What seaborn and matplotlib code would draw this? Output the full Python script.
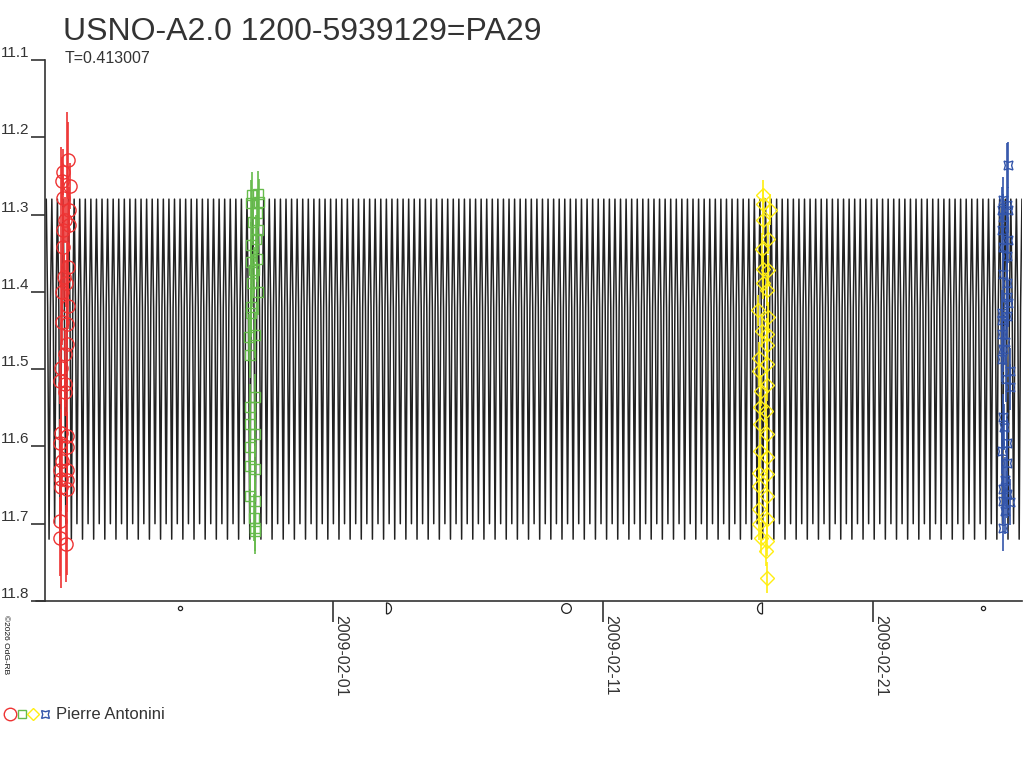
import numpy as np
import pandas as pd
import matplotlib
matplotlib.use("Agg")
import matplotlib.pyplot as plt
from matplotlib.path import Path
from matplotlib.lines import Line2D
import seaborn as sns

# --- data (time = days from 2009-02-01 00:00 UT, magnitude) ---
period = 0.413007
base_date = pd.Timestamp("2009-02-01")

# one period of the model curve (two minima per period), equal phase steps
model_cycle = [11.28, 11.42, 11.72, 11.42, 11.28, 11.42, 11.70, 11.42]
model_start = -10.62
model_end = 25.52

red_t = [-9.804, -10.011, -10.048, -9.741, -9.989, -9.767, -9.926, -9.767, -9.989, -10.011,
         -9.804, -9.963, -9.889, -10.048, -9.804, -10.048, -9.863, -9.863, -9.926, -10.085,
         -10.111, -9.926, -9.926, -10.085, -9.841, -10.111, -9.863, -10.048, -10.111, -9.863,
         -10.085, -9.841, -10.085, -9.863, -10.111, -10.111, -9.889]
red_m = [11.230, 11.245, 11.256, 11.263, 11.279, 11.294, 11.307, 11.314, 11.320, 11.342,
         11.368, 11.381, 11.389, 11.400, 11.418, 11.439, 11.441, 11.467, 11.480, 11.498,
         11.515, 11.519, 11.530, 11.582, 11.586, 11.595, 11.601, 11.619, 11.631, 11.631,
         11.642, 11.644, 11.653, 11.655, 11.696, 11.718, 11.726]
red_e = [0.05, 0.03, 0.03, 0.03, 0.03, 0.03, 0.03, 0.03, 0.03, 0.03,
         0.03, 0.03, 0.03, 0.03, 0.03, 0.03, 0.03, 0.30, 0.03, 0.285,
         0.03, 0.03, 0.03, 0.03, 0.03, 0.03, 0.03, 0.03, 0.03, 0.03,
         0.03, 0.03, 0.03, 0.03, 0.03, 0.05, 0.05]

green_t = [-2.767, -3.011, -2.730, -3.048, -2.826, -2.952, -2.767, -2.852, -3.048, -2.826,
           -3.048, -2.926, -3.011, -2.767, -3.048, -3.048, -2.889, -3.100, -3.074, -2.889,
           -3.074, -3.074, -2.889, -3.074, -3.074, -2.889, -3.074, -2.889, -2.926, -2.889,
           -2.889]
green_m = [11.273, 11.275, 11.284, 11.285, 11.298, 11.310, 11.320, 11.331, 11.340, 11.357,
           11.361, 11.372, 11.389, 11.400, 11.420, 11.428, 11.456, 11.459, 11.482, 11.536,
           11.549, 11.571, 11.584, 11.601, 11.625, 11.629, 11.664, 11.670, 11.692, 11.705,
           11.709]
green_e = [0.03, 0.03, 0.03, 0.03, 0.03, 0.03, 0.03, 0.03, 0.03, 0.03,
           0.03, 0.03, 0.03, 0.03, 0.03, 0.03, 0.03, 0.03, 0.03, 0.03,
           0.03, 0.03, 0.03, 0.03, 0.03, 0.03, 0.03, 0.03, 0.03, 0.03,
           0.03]

yellow_t = [15.937, 15.915, 16.185, 15.937, 16.122, 15.878, 15.937, 16.122, 15.915, 16.063,
            15.752, 16.122, 15.878, 16.085, 16.063, 15.789, 16.063, 15.789, 16.063, 15.841,
            15.815, 16.037, 15.815, 16.063, 15.815, 16.063, 15.789, 16.063, 15.789, 16.063,
            15.789, 16.063, 15.789, 15.841, 16.085, 16.037, 16.063]
yellow_m = [11.275, 11.286, 11.294, 11.307, 11.331, 11.344, 11.370, 11.372, 11.389, 11.398,
            11.424, 11.433, 11.450, 11.454, 11.469, 11.485, 11.493, 11.502, 11.521, 11.528,
            11.549, 11.554, 11.571, 11.584, 11.606, 11.614, 11.634, 11.636, 11.651, 11.664,
            11.681, 11.694, 11.701, 11.718, 11.722, 11.735, 11.770]
yellow_e = [0.02, 0.02, 0.02, 0.02, 0.02, 0.02, 0.02, 0.02, 0.02, 0.02,
            0.02, 0.02, 0.02, 0.02, 0.02, 0.02, 0.02, 0.02, 0.02, 0.02,
            0.02, 0.02, 0.02, 0.02, 0.02, 0.02, 0.02, 0.02, 0.02, 0.02,
            0.02, 0.02, 0.02, 0.02, 0.02, 0.02, 0.02]

blue_t = [25.011, 24.804, 24.952, 24.767, 25.011, 24.826, 24.767, 25.011, 24.826, 24.952,
          24.804, 24.952, 24.952, 25.011, 24.767, 24.952, 24.767, 24.767, 24.889, 24.804,
          24.767, 25.074, 24.926, 25.074, 24.804, 24.852, 24.952, 24.767, 24.952, 24.889,
          24.826, 24.952, 24.826, 25.074, 24.889, 24.826]
blue_m = [11.236, 11.281, 11.288, 11.294, 11.294, 11.303, 11.320, 11.333, 11.342, 11.353,
          11.377, 11.389, 11.407, 11.415, 11.428, 11.431, 11.437, 11.454, 11.465, 11.474,
          11.487, 11.502, 11.513, 11.523, 11.562, 11.575, 11.595, 11.606, 11.621, 11.644,
          11.655, 11.662, 11.670, 11.672, 11.683, 11.705]
blue_e = [0.03, 0.03, 0.08, 0.03, 0.03, 0.03, 0.03, 0.03, 0.03, 0.03,
          0.03, 0.03, 0.03, 0.03, 0.03, 0.03, 0.03, 0.03, 0.03, 0.03,
          0.03, 0.03, 0.03, 0.03, 0.03, 0.03, 0.03, 0.03, 0.03, 0.03,
          0.03, 0.03, 0.03, 0.03, 0.03, 0.03]

# moon phases (days from 2009-02-01): new, first quarter, full, last quarter, new
moon_t = [-5.67, 1.97, 8.62, 15.90, 24.07]
moon_kind = ["new", "first", "full", "last", "new"]

tick_dates = ["2009-02-01", "2009-02-11", "2009-02-21"]
y_ticks = [11.1, 11.2, 11.3, 11.4, 11.5, 11.6, 11.7, 11.8]

title = "USNO-A2.0 1200-5939129=PA29"
subtitle = "T=0.413007"
observer = "Pierre Antonini"

# --- style ---
sns.set_theme(style="white")
plt.rcParams["font.family"] = ["Liberation Sans", "DejaVu Sans"]
text_col = "#333333"


def to_dates(days):
    return base_date + pd.to_timedelta(np.asarray(days, dtype=float), unit="D")


def half_moon(side):
    # vertical bar with a half circle bulging to one side
    ang = np.linspace(-np.pi / 2, np.pi / 2, 13)
    xs = side * np.cos(ang) * 0.9
    ys = np.sin(ang)
    verts = [(0, -1)] + list(zip(xs, ys)) + [(0, -1)]
    codes = [Path.MOVETO] + [Path.LINETO] * (len(verts) - 1)
    return Path(verts, codes)


fig = plt.figure(figsize=(10.24, 7.68), dpi=100)
ax = fig.add_axes([45 / 1024, 1 - 601 / 768, (1022 - 45) / 1024, 541 / 768])

# model curve: the template repeated with the period
n_cycles = int(np.ceil((model_end - model_start) / period))
phase = np.arange(len(model_cycle)) / len(model_cycle)
curve_t = (model_start + period * (np.arange(n_cycles)[:, None] + phase[None, :])).ravel()
curve_m = np.tile(model_cycle, n_cycles)
keep = curve_t <= model_end
curve = pd.DataFrame({"date": to_dates(curve_t[keep]), "mag": curve_m[keep]})
sns.lineplot(data=curve, x="date", y="mag", ax=ax, color="#222222", lw=1.1,
             sort=False, estimator=None, zorder=2)

series = [
    (red_t, red_m, red_e, "#ee3333", "o", 9.5),
    (green_t, green_m, green_e, "#66bb4c", "s", 7),
    (yellow_t, yellow_m, yellow_e, "#ffee11", "D", 7),
    (blue_t, blue_m, blue_e, "#3355aa", (4, 1, 45), 9),
]
for t, m, e, col, mk, ms in series:
    ax.errorbar(to_dates(t), m, yerr=e, fmt="none", ecolor=col, elinewidth=1.2, zorder=3)
    ax.plot(to_dates(t), m, ls="none", marker=mk, ms=ms, mfc="none", mec=col, mew=1.0, zorder=4)

# moon phase symbols below the axis
moon_style = {
    "new": dict(marker="o", ms=3),
    "full": dict(marker="o", ms=7),
    "first": dict(marker=half_moon(1), ms=8),
    "last": dict(marker=half_moon(-1), ms=8),
}
for t, kind in zip(moon_t, moon_kind):
    ax.plot(to_dates([t]), [11.809], ls="none", mfc="none", mec="#222222", mew=0.9,
            clip_on=False, zorder=5, **moon_style[kind])

ax.set_xlim(to_dates([-10.667])[0], to_dates([25.52])[0])
ax.set_ylim(11.8, 11.1)
ax.set_xlabel("")
ax.set_ylabel("")

ax.set_yticks(y_ticks)
ax.set_yticklabels([f"{v:.1f}" for v in y_ticks])
for lab in ax.get_yticklabels():
    lab.set_va("bottom")
ax.tick_params(axis="y", direction="out", length=10, width=1.2, pad=1.5,
               labelsize=11, colors=text_col, left=True)

ax.set_xticks(pd.to_datetime(tick_dates))
ax.set_xticklabels(tick_dates, rotation=270, ha="left", va="top")
ax.tick_params(axis="x", direction="out", length=15, width=1.2, pad=-5,
               labelsize=11.5, colors=text_col, bottom=True)

for side in ["top", "right"]:
    ax.spines[side].set_visible(False)
for side in ["left", "bottom"]:
    ax.spines[side].set_color("#333333")
    ax.spines[side].set_linewidth(1.2)
fig.add_artist(Line2D([36 / 1024, 45 / 1024], [1 - 601 / 768, 1 - 601 / 768],
                      color="#333333", lw=1.2))

# texts
fig.text(63 / 1024, 1 - 40 / 768, title, fontsize=23, color=text_col, va="baseline")
fig.text(65 / 1024, 1 - 63 / 768, subtitle, fontsize=11.5, color=text_col, va="baseline")
fig.text(2 / 1024, 1 - 615 / 768, "\u00a92026 OdG-RB", fontsize=6, rotation=270,
         ha="left", va="top", color="#111111")

# observer legend
legend_marks = [("o", "#ee3333", 9), ("s", "#66bb4c", 6), ("D", "#ffee11", 6.5),
                ((4, 1, 45), "#3355aa", 8)]
for i, (mk, col, ms) in enumerate(legend_marks):
    fig.add_artist(Line2D([(10 + 11.5 * i) / 1024], [1 - 714 / 768], ls="none", marker=mk,
                          ms=ms, mfc="none", mec=col, mew=1.0))
fig.text(56 / 1024, 1 - 719 / 768, observer, fontsize=12, color=text_col, va="baseline")

fig.savefig("out.png", dpi=100)
